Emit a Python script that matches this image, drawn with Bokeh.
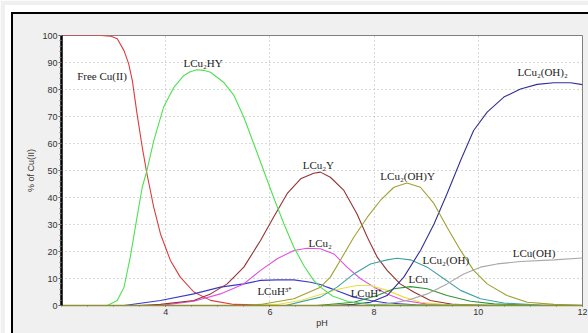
from bokeh.plotting import figure
from bokeh.embed import file_html
from bokeh.resources import INLINE
from bokeh.models import FixedTicker, Label, Div
from bokeh.layouts import column

# ---- data ----
free_ph = [2, 2.75, 2.95, 3.07, 3.2, 3.29, 3.36, 3.45, 3.55, 3.64, 3.77, 3.9, 4.09, 4.28, 4.54, 4.86, 5.31, 6.0, 7.0, 12]
free_v = [100, 100, 99.7, 98.8, 94.4, 89.5, 83.3, 71, 58.6, 48.8, 36.4, 26.5, 16.7, 10.5, 5, 1.9, 0.4, 0.1, 0, 0]

cu2hy_ph = [2.88, 3.07, 3.2, 3.32, 3.45, 3.55, 3.64, 3.77, 3.96, 4.16, 4.35, 4.47, 4.6, 4.73, 4.86, 5.11, 5.31, 5.5, 5.69, 5.88, 6.07, 6.27, 6.46, 6.65, 6.84, 6.97, 7.2, 7.5, 8.0, 12]
cu2hy_v = [0, 1.85, 6.8, 17.9, 32.7, 43.8, 50, 61, 73.5, 80.9, 85.2, 86.6, 87.3, 87.1, 86.4, 82.7, 77.8, 69.7, 59.9, 50, 40.1, 30.2, 21.6, 14.8, 9.3, 6.8, 3.5, 1.5, 0.3, 0]

cu2y_ph = [2, 3.5, 3.9, 4.54, 4.86, 5.18, 5.5, 5.82, 6.07, 6.33, 6.59, 6.84, 6.97, 7.16, 7.42, 7.67, 7.87, 8.06, 8.25, 8.5, 8.76, 9.08, 9.53, 10.2, 12]
cu2y_v = [0, 0, 0.4, 1.85, 4.3, 8, 14.2, 24.1, 32.7, 41.4, 46.9, 49, 49.4, 47.5, 42.6, 34, 25.3, 17.9, 13, 8, 5, 1.85, 0.4, 0, 0]

cu2_ph = [2, 3.9, 4.54, 5.05, 5.5, 5.82, 6.14, 6.46, 6.71, 6.97, 7.23, 7.48, 7.74, 8.0, 8.25, 8.57, 9.0, 9.6, 12]
cu2_v = [0, 0, 1.6, 4.3, 8, 13, 17.3, 20.4, 21.2, 21, 19.1, 14.2, 9.9, 6.8, 4.3, 1.85, 0.6, 0.1, 0]

cuh3_ph = [2, 3.2, 3.9, 4.54, 5.05, 5.5, 5.82, 6.14, 6.46, 6.78, 6.97, 7.1, 7.35, 7.61, 7.93, 8.25, 8.8, 9.5, 12]
cuh3_v = [0, 0, 1.85, 4.3, 6.8, 8, 9.3, 9.5, 9.5, 8.6, 7.8, 6.8, 5, 3.1, 1.85, 0.9, 0.3, 0, 0]

cuh_ph = [2, 5.6, 6.14, 6.59, 6.97, 7.35, 7.67, 7.93, 8.25, 8.57, 8.89, 9.4, 10, 12]
cuh_v = [0, 0, 0.4, 1.85, 4.1, 6.2, 7.4, 7.4, 5.6, 3.1, 1.2, 0.3, 0, 0]

cu2ohy_ph = [2, 5.5, 5.82, 6.46, 6.97, 7.16, 7.35, 7.61, 7.87, 8.12, 8.38, 8.63, 8.89, 9.15, 9.4, 9.66, 9.91, 10.17, 10.55, 10.94, 11.45, 12]
cu2ohy_v = [0, 0, 0.4, 2.5, 6.8, 10.5, 16.7, 25.3, 32.7, 38.9, 43.8, 45.4, 43.8, 37.7, 29, 20.4, 13, 8, 3.7, 1.2, 0.4, 0.1]

cu2oh2_ph = [2, 7.2, 7.61, 7.93, 8.25, 8.57, 8.89, 9.15, 9.4, 9.66, 9.91, 10.17, 10.49, 10.81, 11.13, 11.45, 11.77, 12]
cu2oh2_v = [0, 0, 0.4, 1.2, 3.7, 10.5, 20.4, 30.2, 41.4, 53.7, 64.8, 71.6, 77.2, 80.2, 81.9, 82.5, 82.5, 81.8]

cu2oh_ph = [2, 6.3, 6.97, 7.29, 7.61, 7.93, 8.25, 8.44, 8.7, 9.02, 9.34, 9.66, 10.04, 10.49, 11.2, 12]
cu2oh_v = [0, 0, 3.1, 6.8, 11.7, 15.4, 16.9, 17.5, 16.9, 14.2, 9.9, 5.6, 2.5, 0.9, 0.2, 0]

cu_ph = [2, 6.9, 7.61, 8.06, 8.38, 8.7, 9.02, 9.4, 9.85, 10.3, 11.0, 12]
cu_v = [0, 0, 1.2, 3.7, 6.2, 7, 6.2, 3.7, 1.6, 0.6, 0.1, 0]

cuoh_ph = [2, 7.7, 8.25, 8.63, 9.02, 9.4, 9.72, 10.04, 10.36, 10.81, 11.45, 12]
cuoh_v = [0, 0, 0.6, 1.85, 4.3, 8, 11.7, 14.2, 15.4, 16.3, 16.9, 17.6]

x_ticks = [4, 6, 8, 10, 12]
y_ticks = [0, 10, 20, 30, 40, 50, 60, 70, 80, 90, 100]

series = [
    (free_ph, free_v, "#e03a3a"),
    (cuh3_ph, cuh3_v, "#3a3ac8"),
    (cu2_ph, cu2_v, "#e050e0"),
    (cu2y_ph, cu2y_v, "#963232"),
    (cuh_ph, cuh_v, "#e8e040"),
    (cu2oh_ph, cu2oh_v, "#40a0a8"),
    (cu_ph, cu_v, "#2f962f"),
    (cuoh_ph, cuoh_v, "#a8a8a8"),
    (cu2oh2_ph, cu2oh2_v, "#30309a"),
    (cu2ohy_ph, cu2ohy_v, "#a0a030"),
    (cu2hy_ph, cu2hy_v, "#50e050"),
]

labels = [
    (2.3, 85, "Free Cu(II)"),
    (4.34, 90, "LCu\u2082HY"),
    (6.63, 52, "LCu\u2082Y"),
    (6.74, 23.3, "LCu\u2082"),
    (5.76, 5.5, "LCuH\u00b3\u207a"),
    (7.55, 4.8, "LCuH\u207a"),
    (8.12, 48, "LCu\u2082(OH)Y"),
    (8.93, 16.7, "LCu\u2082(OH)"),
    (8.66, 10, "LCu"),
    (10.66, 19.5, "LCu(OH)"),
    (10.75, 86.5, "LCu\u2082(OH)\u2082"),
]

p = figure(width=588, height=333, x_range=(2, 12), y_range=(0, 100),
           output_backend="svg", toolbar_location=None,
           min_border_left=61, min_border_top=35, min_border_right=6, min_border_bottom=28,
           background_fill_color="white", border_fill_color="#f0f0f0")

p.outline_line_color = "#808080"
p.outline_line_width = 1

for xs, ys, c in series:
    p.line(xs, ys, line_color=c, line_width=1.1)

for x, y, t in labels:
    p.add_layout(Label(x=x, y=y, text=t, text_font="Liberation Serif", text_font_size="11px",
                       text_color="#222222", text_baseline="middle", text_align="left"))

# axes
p.xaxis.ticker = FixedTicker(ticks=x_ticks, minor_ticks=[2 + 0.5 * i for i in range(21)])
p.yaxis.ticker = FixedTicker(ticks=y_ticks, minor_ticks=[2 * i for i in range(51)])
for ax in (p.xaxis[0], p.yaxis[0]):
    ax.major_label_text_font = "Liberation Sans"
    ax.major_label_text_font_size = "9px"
    ax.major_label_text_color = "#333333"
    ax.axis_label_text_font = "Liberation Sans"
    ax.axis_label_text_font_size = "9px"
    ax.axis_label_text_font_style = "normal"
    ax.axis_label_text_color = "#333333"
    ax.major_tick_line_color = "#555555"
    ax.minor_tick_line_color = "#777777"
    ax.major_tick_in = 0
    ax.major_tick_out = 3
    ax.minor_tick_in = 0
    ax.minor_tick_out = 2

p.yaxis.axis_label = "% of Cu(II)"
p.yaxis.axis_line_color = "black"
p.yaxis.axis_line_width = 2.5
p.yaxis.axis_label_standoff = 3
p.yaxis.major_label_standoff = 1

p.xaxis.axis_label = "pH"
p.xaxis.axis_line_color = "#8f8f3a"
p.xaxis.axis_line_width = 1.5
p.xaxis.axis_label_standoff = 0
p.xaxis.major_label_standoff = 2
p.xaxis.major_tick_out = 1
p.xaxis.minor_tick_out = 1

p.xgrid.grid_line_color = "#b4b4b4"
p.ygrid.grid_line_color = "#b4b4b4"
p.xgrid.grid_line_dash = "1 3"
p.ygrid.grid_line_dash = "1 3"
p.xgrid.ticker = FixedTicker(ticks=x_ticks)
p.ygrid.ticker = FixedTicker(ticks=y_ticks)

frame = Div(text="", width=588, height=333, styles={
    "position": "absolute", "left": "0px", "top": "0px",
    "width": "588px", "height": "333px", "box-sizing": "border-box",
    "border-left": "6px solid white", "border-top": "7px solid white",
    "box-shadow": "inset 2px 2px 0 0 black", "pointer-events": "none",
    "background": "transparent", "z-index": "10"})

layout = column(p, frame, styles={"position": "relative"})

open("out.html", "w").write(file_html(layout, INLINE))
